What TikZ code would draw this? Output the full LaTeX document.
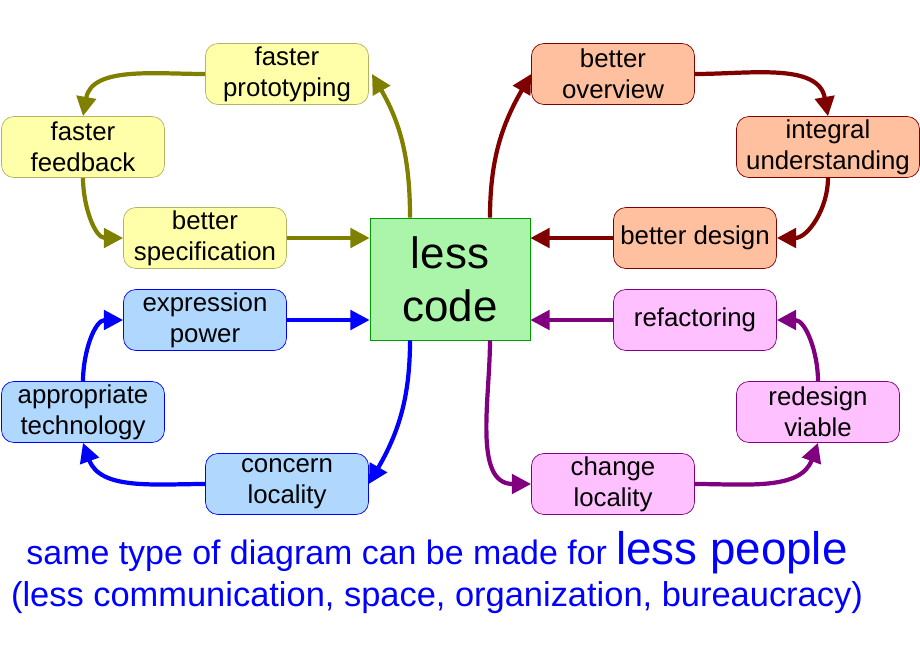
\documentclass[tikz,border=0pt]{standalone}
\usepackage{fontspec}
\setmainfont{Liberation Sans}
\usetikzlibrary{arrows.meta}
\definecolor{yfill}{HTML}{FFFFAA}
\definecolor{rfill}{HTML}{FFC0A0}
\definecolor{bfill}{HTML}{B0D8FF}
\definecolor{pfill}{HTML}{FFC0FF}
\definecolor{gfill}{HTML}{AAF5AA}
\definecolor{olivearr}{HTML}{808000}
\definecolor{redarr}{HTML}{800000}
\definecolor{purparr}{HTML}{800080}
\begin{document}
\begin{tikzpicture}[x=0.02cm,y=-0.02cm]
			\tikzstyle{place}=[rounded corners=7pt, minimum width=3.26cm, minimum height=1.22cm, align=center, font=\fontsize{14.7}{17.5}\selectfont, inner sep=1pt]
			\tikzstyle{yel}=[place, fill=yfill, draw=olivearr!60]
			\tikzstyle{red}=[place, fill=rfill, draw=redarr]
			\tikzstyle{blu}=[place, fill=bfill, draw=blue]
			\tikzstyle{pur}=[place, fill=pfill, draw=purparr]
			\tikzstyle{arr}=[line width=2.4pt, -{Triangle[length=11pt,width=11pt]}]
			
			\useasboundingbox (0,0) rectangle (920,660);
			
			\draw node at (450,279) [fill=gfill, draw=green!60!black, minimum width=3.2cm, minimum height=2.44cm, align=center, font=\fontsize{25}{30}\selectfont] (lc) {less\\code};
			
			\draw node at (287,74) [yel] (proto) {faster\\prototyping};
			\draw node at (83,147) [yel] (feed) {faster\\feedback};
			\draw node at (205,238) [yel] (spec) {better\\specification};
			
			\draw [arr, olivearr] ([xshift=-0.8cm]lc.north) to[out=90, in=-60] (372,74);
			\draw [arr, olivearr] (proto.west) to[out=180, in=80] (feed.north);
			\draw [arr, olivearr] (feed.south) to[out=-90, in=180] (spec.west);
			\draw [arr, olivearr] (spec.east) to (lc.west |- spec.east);
			
			\draw node at (613,74) [red] (over) {better\\overview};
			\draw node at (828,147) [red, minimum width=3.66cm] (integ) {integral\\understanding};
			\draw node at (695,238) [red] (design) {better design};
			
			\draw [arr, redarr] ([xshift=0.8cm]lc.north) to[out=90, in=-120] (over.west);
			\draw [arr, redarr] (over.east) to[out=0, in=100] (integ.north);
			\draw [arr, redarr] (integ.south) to[out=-90, in=0] (design.east);
			\draw [arr, redarr] (design.west) to (lc.east |- design.west);
			
			\draw node at (205,320) [blu] (expr) {expression\\power};
			\draw node at (83,412) [blu] (tech) {appropriate\\technology};
			\draw node at (287,484) [blu] (conc) {concern\\locality};
			
			\draw [arr, blue] (expr.east) to (lc.west |- expr.east);
			\draw [arr, blue] ([xshift=-0.8cm]lc.south) to[out=-90, in=60] (conc.east);
			\draw [arr, blue] (conc.west) to[out=180, in=-70] (tech.south);
			\draw [arr, blue] (tech.north) to[out=90, in=180] (expr.west);
			
			\draw node at (695,320) [pur] (refac) {refactoring};
			\draw node at (818,412) [pur] (redes) {redesign\\viable};
			\draw node at (613,484) [pur] (chg) {change\\locality};
			
			\draw [arr, purparr] (refac.west) to (lc.east |- refac.west);
			\draw [arr, purparr] ([xshift=0.8cm]lc.south) to[out=-90, in=180] (chg.west);
			\draw [arr, purparr] (chg.east) to[out=0, in=-110] (redes.south);
			\draw [arr, purparr] (redes.north) to[out=90, in=0] (refac.east);
			
			\node at (437,553) [blue, font=\fontsize{19.3}{23}\selectfont] (note1) {same type of diagram can be made for {\fontsize{26}{30}\selectfont less people}};
			\node at (437,598) [blue, font=\fontsize{19.6}{23}\selectfont] (note2) {(less communication, space, organization, bureaucracy)};
\end{tikzpicture}
\end{document}
